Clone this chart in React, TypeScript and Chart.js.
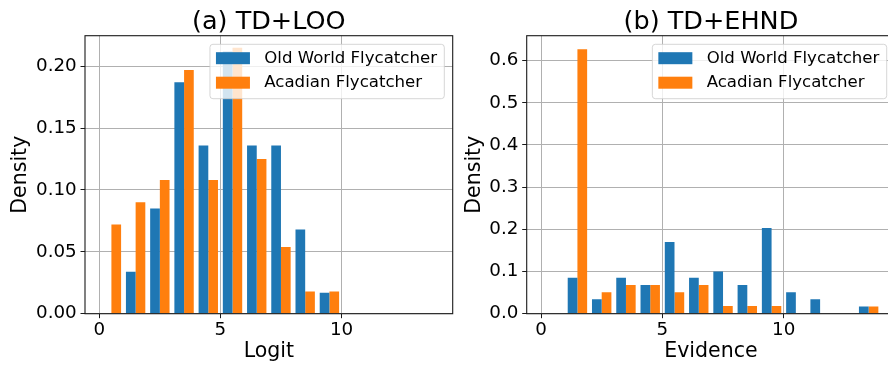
import React, { useEffect, useRef } from 'react';
import { Chart, registerables } from 'chart.js';

Chart.register(...registerables);

// ---------- data ----------
const binCenters = [0.5, 1.5, 2.5, 3.5, 4.5, 5.5, 6.5, 7.5, 8.5, 9.5, 10.5, 11.5, 12.5, 13.5];
const xTicks = [0, 5, 10];
const seriesNames = ['Old World Flycatcher', 'Acadian Flycatcher'];

const looOldWorld = [0, 0.034, 0.085, 0.187, 0.136, 0.212, 0.136, 0.136, 0.068, 0.017, 0, 0, 0, 0];
const looAcadian = [0.072, 0.09, 0.108, 0.197, 0.108, 0.215, 0.125, 0.054, 0.018, 0.018, 0, 0, 0, 0];
const looYTicks = [0, 0.05, 0.1, 0.15, 0.2];

const ehndOldWorld = [0, 0.085, 0.034, 0.085, 0.068, 0.17, 0.085, 0.1, 0.068, 0.203, 0.051, 0.034, 0, 0.017];
const ehndAcadian = [0, 0.627, 0.051, 0.068, 0.068, 0.051, 0.068, 0.018, 0.018, 0.018, 0, 0, 0, 0.017];
const ehndYTicks = [0, 0.1, 0.2, 0.3, 0.4, 0.5, 0.6];

// ---------- style ----------
const FONT = "'DejaVu Sans', sans-serif";
const COLORS = ['#1f77b4', '#ff7f0e'];
const CANVAS_W = 460;
const CANVAS_H = 366;
const TICK_FONT = 18.3;

const frameAndLegend = {
  id: 'frameAndLegend',
  afterDraw(chart: any, _args: any, opts: any) {
    const { ctx, chartArea } = chart;
    ctx.save();
    // axes frame (all four spines)
    ctx.strokeStyle = '#1a1a1a';
    ctx.lineWidth = 1.1;
    ctx.strokeRect(
      chartArea.left,
      chartArea.top,
      chartArea.right - chartArea.left,
      chartArea.bottom - chartArea.top
    );
    // legend inside upper right
    const fs = opts.fontSize || 16.6;
    ctx.font = `${fs}px ${FONT}`;
    const items = chart.data.datasets.map((d: any) => ({ label: d.label, color: d.backgroundColor }));
    const textW = Math.max(...items.map((i: any) => ctx.measureText(i.label).width));
    const padL = 6, handleW = 34, handleH = 12, gap = 14.3, padR = 7.3;
    const w = padL + handleW + gap + textW + padR;
    const h = 54.4;
    const right = chartArea.right - 8.4;
    const left = right - w;
    const top = chartArea.top + 8.6;
    const r = 3;
    ctx.beginPath();
    ctx.moveTo(left + r, top);
    ctx.lineTo(left + w - r, top);
    ctx.arcTo(left + w, top, left + w, top + r, r);
    ctx.lineTo(left + w, top + h - r);
    ctx.arcTo(left + w, top + h, left + w - r, top + h, r);
    ctx.lineTo(left + r, top + h);
    ctx.arcTo(left, top + h, left, top + h - r, r);
    ctx.lineTo(left, top + r);
    ctx.arcTo(left, top, left + r, top, r);
    ctx.closePath();
    ctx.fillStyle = 'rgba(255,255,255,0.8)';
    ctx.fill();
    ctx.strokeStyle = 'rgba(204,204,204,0.8)';
    ctx.lineWidth = 1;
    ctx.stroke();
    const rowCenters = [top + 13.9, top + 38.4];
    items.forEach((it: any, i: number) => {
      const cy = rowCenters[i];
      ctx.fillStyle = it.color;
      ctx.fillRect(left + padL, cy - handleH / 2, handleW, handleH);
      ctx.fillStyle = '#000';
      ctx.textBaseline = 'middle';
      ctx.textAlign = 'left';
      ctx.fillText(it.label, left + padL + handleW + gap, cy);
    });
    ctx.restore();
  },
};

type PanelCfg = {
  title: string;
  xLabel: string;
  oldWorld: number[];
  acadian: number[];
  yMax: number;
  yTicks: number[];
  decimals: number;
  yWidth: number;
  padRight: number;
  yTitlePad: number;
  pageLeft: number;
};

const panels: PanelCfg[] = [
  {
    title: '(a) TD+LOO',
    xLabel: 'Logit',
    oldWorld: looOldWorld,
    acadian: looAcadian,
    yMax: 0.2247,
    yTicks: looYTicks,
    decimals: 2,
    yWidth: 85,
    padRight: 7.3,
    yTitlePad: 8,
    pageLeft: 0,
  },
  {
    title: '(b) TD+EHND',
    xLabel: 'Evidence',
    oldWorld: ehndOldWorld,
    acadian: ehndAcadian,
    yMax: 0.659,
    yTicks: ehndYTicks,
    decimals: 1,
    yWidth: 82.7,
    padRight: 8.9,
    yTitlePad: 18.2,
    pageLeft: 444,
  },
];

function makeConfig(p: PanelCfg): any {
  const gridCommon = {
    color: '#b0b0b0',
    lineWidth: 1,
    drawTicks: true,
    tickLength: 4.5,
    tickColor: '#1a1a1a',
    tickWidth: 1,
    offset: false,
  };
  return {
    type: 'bar',
    data: {
      datasets: [
        {
          label: seriesNames[0],
          data: binCenters.map((x, i) => ({ x, y: p.oldWorld[i] })),
          backgroundColor: COLORS[0],
          borderWidth: 0,
          categoryPercentage: 0.8,
          barPercentage: 1.0,
        },
        {
          label: seriesNames[1],
          data: binCenters.map((x, i) => ({ x, y: p.acadian[i] })),
          backgroundColor: COLORS[1],
          borderWidth: 0,
          categoryPercentage: 0.8,
          barPercentage: 1.0,
        },
      ],
    },
    options: {
      responsive: false,
      animation: false,
      devicePixelRatio: 1,
      layout: { padding: { left: 0, right: p.padRight, top: 0, bottom: 0 } },
      plugins: {
        legend: { display: false },
        tooltip: { enabled: false },
        title: {
          display: true,
          text: p.title,
          fullSize: false,
          color: '#000',
          font: { family: FONT, size: 25.5, weight: 'normal', lineHeight: 1.2 },
          padding: { top: 6.6, bottom: -1.5 },
        },
        frameAndLegend: { fontSize: 16.6 },
      },
      scales: {
        x: {
          type: 'linear',
          min: -0.59,
          max: 14.59,
          offset: false,
          z: 1,
          grid: gridCommon,
          border: { display: false },
          afterBuildTicks: (s: any) => {
            s.ticks = xTicks.map((v) => ({ value: v }));
          },
          afterFit: (s: any) => {
            s.height = CANVAS_H - 313.7;
          },
          ticks: {
            color: '#000',
            font: { family: FONT, size: TICK_FONT },
            padding: 1.2,
            maxRotation: 0,
            callback: (v: any) => String(v),
          },
          title: {
            display: true,
            text: p.xLabel,
            color: '#000',
            font: { family: FONT, size: 20.5, lineHeight: 1.2 },
            padding: { top: 0, bottom: 1.7 },
          },
        },
        y: {
          type: 'linear',
          min: 0,
          max: p.yMax,
          z: 1,
          grid: gridCommon,
          border: { display: false },
          afterBuildTicks: (s: any) => {
            s.ticks = p.yTicks.map((v) => ({ value: v }));
          },
          afterFit: (s: any) => {
            s.width = p.yWidth;
          },
          ticks: {
            color: '#000',
            font: { family: FONT, size: TICK_FONT },
            padding: 3.8,
            callback: (v: any) => Number(v).toFixed(p.decimals),
          },
          title: {
            display: true,
            text: 'Density',
            color: '#000',
            font: { family: FONT, size: 20.5, lineHeight: 1.2 },
            padding: { top: p.yTitlePad, bottom: 0 },
          },
        },
      },
    },
    plugins: [frameAndLegend],
  };
}

function Panel({ cfg }: { cfg: PanelCfg }) {
  const ref = useRef<HTMLCanvasElement | null>(null);
  useEffect(() => {
    if (!ref.current) return;
    const chart = new Chart(ref.current, makeConfig(cfg));
    return () => chart.destroy();
  }, [cfg]);
  return (
    <canvas
      ref={ref}
      width={CANVAS_W}
      height={CANVAS_H}
      style={{ position: 'absolute', left: cfg.pageLeft, top: 0, width: CANVAS_W, height: CANVAS_H }}
    />
  );
}

export default function App() {
  return (
    <div
      style={{
        position: 'fixed',
        left: 0,
        top: 0,
        width: 888,
        height: 366,
        overflow: 'hidden',
        background: '#fff',
      }}
    >
      {panels.map((p) => (
        <Panel key={p.title} cfg={p} />
      ))}
    </div>
  );
}
